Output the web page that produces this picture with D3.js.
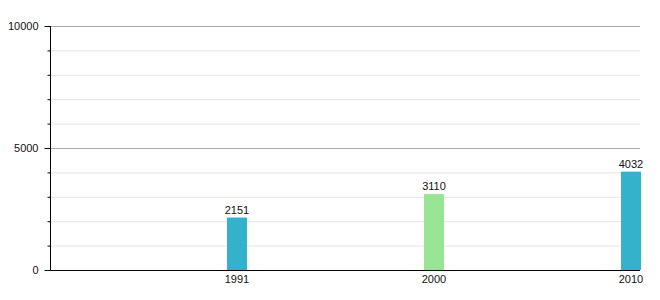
<!DOCTYPE html>
<meta charset="utf-8">
<style>
  body { margin: 0; background: #fff; }
  .chart text { font: 11px "Liberation Sans", Arial, sans-serif; fill: #111; }
</style>
<body>
<svg class="chart"></svg>
<script src="https://d3js.org/d3.v7.min.js"></script>
<script>
    // data
    var years = ["1991", "2000", "2010"];
    var population = [2151, 3110, 4032];
    var barColors = ["#35b2cb", "#98e596", "#35b2cb"];
    var yTicks = [0, 5000, 10000];
    var yMinor = d3.range(0, 10001, 1000);

    var w = 660, h = 300;
    var plotLeft = 50, plotRight = 640, plotTop = 26, plotBottom = 270;

    var chart = d3.select(".chart")
        .attr("width", w)
        .attr("height", h);

    var y = d3.scaleLinear().domain([0, 10000]).range([plotBottom, plotTop]);
    var x = d3.scalePoint().domain(years).range([237, 631]);
    var barW = 20;

    // grid lines
    chart.selectAll(".grid")
        .data(yMinor.filter(function (d) { return d > 0; }))
        .enter().append("line")
        .attr("x1", plotLeft).attr("x2", plotRight)
        .attr("y1", function (d) { return y(d) + 0.5; })
        .attr("y2", function (d) { return y(d) + 0.5; })
        .attr("stroke", function (d) { return d % 5000 === 0 ? "#aaaaaa" : "#e4e4e4"; })
        .attr("stroke-width", 1);

    // bars
    chart.selectAll(".bar")
        .data(population)
        .enter().append("rect")
        .attr("x", function (d, i) { return x(years[i]) - barW / 2; })
        .attr("y", function (d) { return y(d); })
        .attr("width", barW)
        .attr("height", function (d) { return plotBottom - y(d); })
        .attr("fill", function (d, i) { return barColors[i]; });

    // value labels
    chart.selectAll(".val")
        .data(population)
        .enter().append("text")
        .attr("x", function (d, i) { return x(years[i]); })
        .attr("y", function (d) { return y(d) - 4; })
        .attr("text-anchor", "middle")
        .text(function (d) { return d; });

    // y axis
    var yAxis = chart.append("g")
        .attr("transform", "translate(" + (plotLeft + 0.5) + ",0)");
    yAxis.append("line")
        .attr("x1", 0).attr("x2", 0)
        .attr("y1", plotTop).attr("y2", plotBottom)
        .attr("stroke", "#000");
    yAxis.selectAll(".minor")
        .data(yMinor)
        .enter().append("line")
        .attr("x1", function (d) { return d % 5000 === 0 ? -6 : -3; })
        .attr("x2", 0)
        .attr("y1", function (d) { return y(d) + 0.5; })
        .attr("y2", function (d) { return y(d) + 0.5; })
        .attr("stroke", "#000");
    yAxis.selectAll(".ylab")
        .data(yTicks)
        .enter().append("text")
        .attr("x", -12)
        .attr("y", function (d) { return y(d) + 4; })
        .attr("text-anchor", "end")
        .text(function (d) { return d; });

    // x axis
    chart.append("line")
        .attr("x1", plotLeft).attr("x2", plotRight)
        .attr("y1", plotBottom + 0.5).attr("y2", plotBottom + 0.5)
        .attr("stroke", "#000");
    chart.selectAll(".xlab")
        .data(years)
        .enter().append("text")
        .attr("x", function (d) { return x(d); })
        .attr("y", plotBottom + 13)
        .attr("text-anchor", "middle")
        .text(function (d) { return d; });
</script>
</body>
